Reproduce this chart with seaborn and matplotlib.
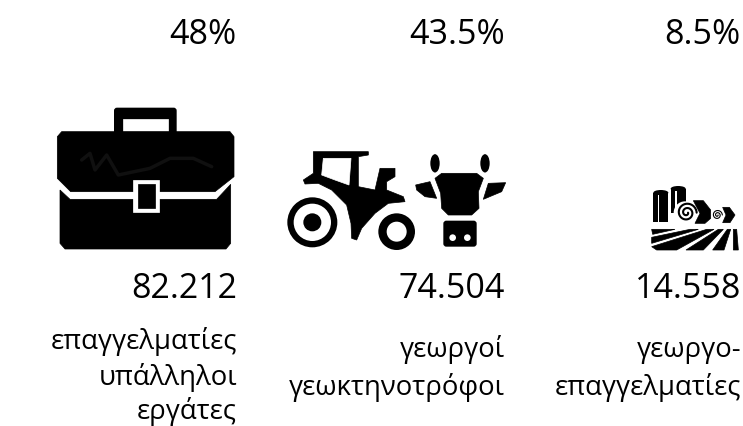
import numpy as np
import matplotlib
matplotlib.use('Agg')
import matplotlib.pyplot as plt
from matplotlib.patches import Polygon, Circle, Ellipse, Rectangle, FancyBboxPatch
import seaborn as sns

# values
shares = ['48%', '43.5%', '8.5%']
counts = ['82.212', '74.504', '14.558']
groups = [
    ['επαγγελματίες', 'υπάλληλοι', 'εργάτες'],
    ['γεωργοί', 'γεωκτηνοτρόφοι'],
    ['γεωργο-', 'επαγγελματίες'],
]

right_edges = [237, 505, 741]

sns.set_theme(style='white')
plt.rcParams['font.family'] = ['Open Sans', 'DejaVu Sans']

fig, ax = plt.subplots(figsize=(7.43, 4.26), dpi=100)
ax.set_position([0, 0, 1, 1])
ax.set_xlim(0, 743)
ax.set_ylim(426, 0)
ax.axis('off')


def zp(points, x0, y0):
    # zoom crop coordinates (3x) to picture pixels
    return [(x0 + x / 3, y0 + y / 3) for x, y in points]


def poly(points, x0, y0, color='black', **kw):
    ax.add_patch(Polygon(zp(points, x0, y0), closed=True, fc=color, ec=color, lw=0.5, **kw))


def disc(x, y, r, x0, y0, color='black'):
    ax.add_patch(Circle((x0 + x / 3, y0 + y / 3), r / 3, fc=color, ec='none'))


def round_box(x1, y1, x2, y2, x0, y0, color='black', pad=4):
    ax.add_patch(FancyBboxPatch((x0 + x1 / 3 + pad, y0 + y1 / 3 + pad),
                                (x2 - x1) / 3 - 2 * pad, (y2 - y1) / 3 - 2 * pad,
                                boxstyle=f'round,pad={pad}', fc=color, ec='none'))


# ------------------- Χαρτοφύλακας -------------------
def draw_briefcase(x0=40, y0=95):
    round_box(222, 38, 410, 130, x0, y0, pad=3)
    poly([(250, 72), (385, 72), (385, 108), (250, 108)], x0, y0, 'white')
    poly([(52, 125), (65, 110), (570, 110), (582, 125), (582, 245), (525, 290), (355, 290),
          (355, 257), (282, 257), (282, 290), (92, 290), (52, 250)], x0, y0)
    ax.plot(*zip(*zp([(125, 195), (150, 175), (165, 225), (200, 180), (235, 240), (330, 220),
                      (390, 190), (460, 190), (515, 215)], x0, y0)),
            color='#101010', lw=2.5, solid_capstyle='round')
    poly([(60, 285), (90, 313), (280, 313), (280, 350), (357, 350), (357, 313), (530, 313),
          (572, 268), (572, 445), (558, 462), (75, 462), (60, 445)], x0, y0)
    poly([(280, 255), (357, 255), (357, 350), (280, 350)], x0, y0, 'white')
    poly([(293, 266), (345, 266), (345, 338), (293, 338)], x0, y0)


# ------------------- Τρακτέρ και αγελάδα -------------------
def draw_tractor_cow(x0=275, y0=140):
    poly([(115, 35), (280, 35), (280, 45), (250, 50), (250, 140), (300, 150), (315, 85), (360, 85),
          (360, 110), (335, 125), (335, 150), (385, 170), (390, 185), (340, 190), (300, 220),
          (260, 265), (245, 300), (230, 295), (228, 250), (215, 195), (170, 150), (130, 130),
          (90, 132), (85, 120), (115, 100)], x0, y0)
    poly([(145, 55), (228, 55), (222, 135), (180, 120), (140, 105)], x0, y0, 'white')
    disc(112, 247, 88, x0, y0, 'white')
    disc(112, 247, 75, x0, y0)
    disc(112, 247, 56, x0, y0, 'white')
    disc(112, 247, 27, x0, y0)
    disc(365, 275, 55, x0, y0)
    disc(365, 275, 30, x0, y0, 'white')
    # αγελάδα
    for cx in (480, 630):
        ax.add_patch(Ellipse((x0 + cx / 3, y0 + 70 / 3), 28 / 3, 55 / 3, fc='black', ec='none'))
    poly([(422, 135), (465, 125), (485, 175), (450, 170), (425, 150)], x0, y0)
    poly([(640, 130), (692, 128), (680, 155), (625, 178)], x0, y0)
    poly([(480, 115), (500, 100), (605, 100), (625, 115), (610, 155), (612, 205), (590, 225),
          (520, 225), (500, 205), (497, 160)], x0, y0)
    round_box(505, 242, 605, 320, x0, y0, pad=3)
    disc(533, 293, 10, x0, y0, 'white')
    disc(577, 293, 10, x0, y0, 'white')


# ------------------- Σιλό και χωράφι -------------------
def draw_farm(x0=640, y0=180):
    for x1, x2, top, bot in [(40, 85, 30, 125), (92, 137, 18, 100)]:
        ax.add_patch(Ellipse((x0 + (x1 + x2) / 6, y0 + (top + 8) / 3), (x2 - x1) / 3, 16 / 3,
                             fc='black', ec='none'))
        ax.add_patch(Rectangle((x0 + x1 / 3, y0 + (top + 8) / 3), (x2 - x1) / 3, (bot - top - 8) / 3,
                               fc='black', ec='none'))
        ax.add_patch(Rectangle((x0 + (x1 + 14) / 3, y0 + (top + 14) / 3), 1.2, (bot - top - 14) / 3,
                               fc='white', ec='none'))
    # μπάλες
    disc(135, 98, 34, x0, y0, 'white')
    t = np.linspace(0, 4 * np.pi, 80)
    r = 4 + 26 * t / t.max()
    ax.plot(x0 + (140 + r * np.cos(t)) / 3, y0 + (98 + r * np.sin(t)) / 3, color='black', lw=1.5)
    poly([(160, 62), (190, 62), (212, 90), (212, 115), (195, 130), (165, 130), (180, 100)], x0, y0)
    ax.plot(x0 + (232 + 0.5 * r * np.cos(t)) / 3, y0 + (105 + 0.5 * r * np.sin(t)) / 3,
            color='black', lw=0.8)
    poly([(248, 82), (268, 82), (285, 105), (270, 128), (248, 128), (258, 105)], x0, y0)
    # αυλάκια
    poly([(35, 148), (105, 148), (38, 163)], x0, y0)
    poly([(35, 172), (150, 148), (175, 148), (35, 190)], x0, y0)
    poly([(35, 200), (200, 148), (222, 148), (110, 210), (50, 210)], x0, y0)
    poly([(138, 210), (235, 148), (250, 148), (190, 210)], x0, y0)
    poly([(218, 210), (262, 148), (272, 148), (252, 210)], x0, y0)
    poly([(280, 210), (280, 148), (290, 148), (295, 210)], x0, y0)


draw_briefcase()
draw_tractor_cow()
draw_farm()

label_tops = [[342, 377, 411], [350, 387], [350, 387]]
for i, right in enumerate(right_edges):
    ax.text(right, 35, shares[i], ha='right', va='center', fontsize=24.5, color='black')
    ax.text(right, 289, counts[i], ha='right', va='center', fontsize=24.5, color='black')
    for line, y in zip(groups[i], label_tops[i]):
        ax.text(right, y, line, ha='right', va='center', fontsize=19.8, color='black')

sns.despine(ax=ax, left=True, bottom=True)
fig.savefig('out.png', dpi=100, facecolor='white')
